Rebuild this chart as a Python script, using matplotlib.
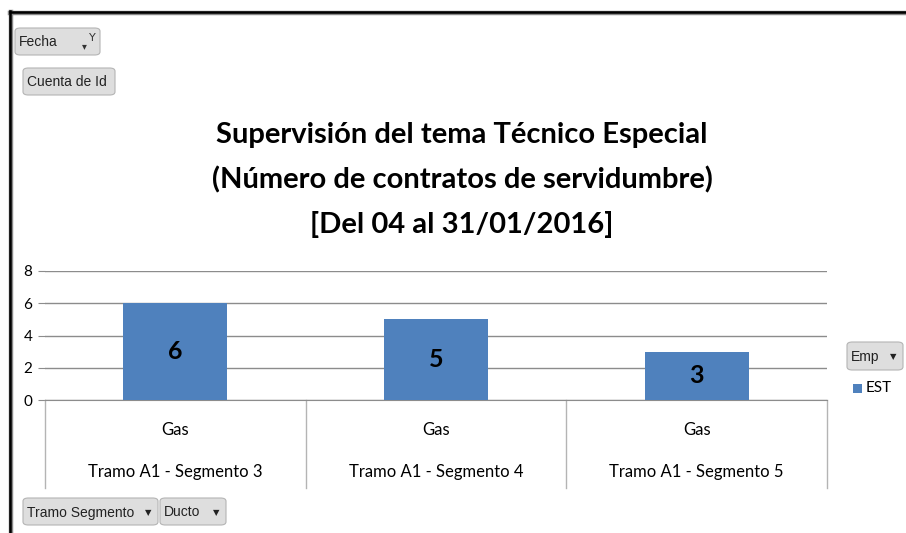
import matplotlib
matplotlib.use("Agg")
import matplotlib.pyplot as plt
from matplotlib.patches import FancyBboxPatch, Rectangle
from matplotlib.lines import Line2D
import matplotlib.transforms as mtransforms

categories = ["Tramo A1 - Segmento 3", "Tramo A1 - Segmento 4", "Tramo A1 - Segmento 5"]
sub_labels = ["Gas", "Gas", "Gas"]
values = [6, 5, 3]
yticks = [0, 2, 4, 6, 8]
title_lines = ["Supervisión del tema Técnico Especial",
               "(Número de contratos de servidumbre)",
               "[Del 04 al 31/01/2016]"]

W, H = 906, 533
BAR = "#4f81bd"
GRID = "#8c8c8c"
BODY = ["Lato", "DejaVu Sans"]
NARROW = ["Liberation Sans Narrow", "Liberation Sans", "DejaVu Sans"]

fig = plt.figure(figsize=(W / 100, H / 100), dpi=100)


def fx(px):
    return px / W


def fy(py):
    return 1 - py / H


# outer frame (top and left edges of the screenshot)
fig.add_artist(Line2D([fx(10), fx(906)], [fy(13), fy(13)], color="#888888", lw=3.2))
fig.add_artist(Line2D([fx(11), fx(11)], [fy(12), fy(533)], color="#888888", lw=3.2))
fig.add_artist(Line2D([fx(10), fx(906)], [fy(12), fy(12)], color="black", lw=1.8))
fig.add_artist(Line2D([fx(10), fx(10)], [fy(11), fy(533)], color="black", lw=1.8))


def button(x0, y0, x1, y1, text, arrow=False):
    box = FancyBboxPatch((fx(x0), fy(y1)), fx(x1 - x0), (y1 - y0) / H,
                         boxstyle="round,pad=0,rounding_size=0.006",
                         transform=fig.transFigure, facecolor="#dedede",
                         edgecolor="#b4b4b4", lw=0.8)
    fig.add_artist(box)
    fig.text(fx(x0 + 4), fy((y0 + y1) / 2 + 1), text, ha="left", va="center",
             fontsize=10, family=NARROW, color="#222222")
    if arrow:
        fig.text(fx(x1 - 10), fy((y0 + y1) / 2 + 1), "▼", ha="center", va="center",
                 fontsize=6, family=["DejaVu Sans"], color="#222222")


button(15, 28, 100, 55, "Fecha")
fig.text(fx(84), fy(46), "▾", ha="center", va="center", fontsize=7,
         family=["DejaVu Sans"], color="#333333")
fig.text(fx(92), fy(38), "Y", ha="center", va="center", fontsize=8,
         family=["DejaVu Sans"], color="#333333")
button(23, 68, 115, 95, "Cuenta de Id")
button(23, 498, 158, 525, "Tramo Segmento", arrow=True)
button(160, 498, 226, 525, "Ducto", arrow=True)
button(847, 342, 903, 370, "Emp", arrow=True)

# legend
fig.add_artist(Rectangle((fx(853), fy(393)), fx(9), 9 / H, transform=fig.transFigure,
                         facecolor=BAR, edgecolor="none"))
fig.text(fx(866), fy(388), "EST", ha="left", va="center", fontsize=11,
         family=BODY, color="black")

# title
for i, line in enumerate(title_lines):
    fig.text(fx(462), fy(135 + 44.5 * i), line, ha="center", va="center",
             fontsize=21, fontweight="bold", family=BODY, color="black")

ax = fig.add_axes([fx(45), 1 - 400 / H, fx(827 - 45), (400 - 271) / H])
x = list(range(len(values)))
ax.bar(x, values, width=0.4, color=BAR, zorder=3)
for xi, v in zip(x, values):
    ax.text(xi, v / 2, str(v), ha="center", va="center", fontsize=18,
            fontweight="bold", family=BODY, color="black", zorder=4)

ax.set_xlim(-0.5, len(values) - 0.5)
ax.set_ylim(0, 8)
ax.set_yticks(yticks)
ax.set_yticklabels([str(t) for t in yticks], fontsize=11, family=BODY)
ax.yaxis.grid(True, color=GRID, lw=1, zorder=0)
ax.tick_params(axis="y", length=5, color=GRID, pad=4)
ax.set_xticks([])
for s in ["left", "right", "top"]:
    ax.spines[s].set_visible(False)
ax.spines["bottom"].set_color(GRID)

trans = mtransforms.blended_transform_factory(ax.transData, ax.transAxes)
for b in [-0.5, 0.5, 1.5, 2.5]:
    ax.add_line(Line2D([b, b], [0, -88 / 129], transform=trans, color="#b4b4b4",
                       lw=1, clip_on=False))
for xi, cat, sub in zip(x, categories, sub_labels):
    ax.text(xi, -30 / 129, sub, transform=trans, ha="center", va="center",
            fontsize=12, family=BODY)
    ax.text(xi, -72 / 129, cat, transform=trans, ha="center", va="center",
            fontsize=12, family=BODY)

fig.savefig("out.png", dpi=100, facecolor="white")
